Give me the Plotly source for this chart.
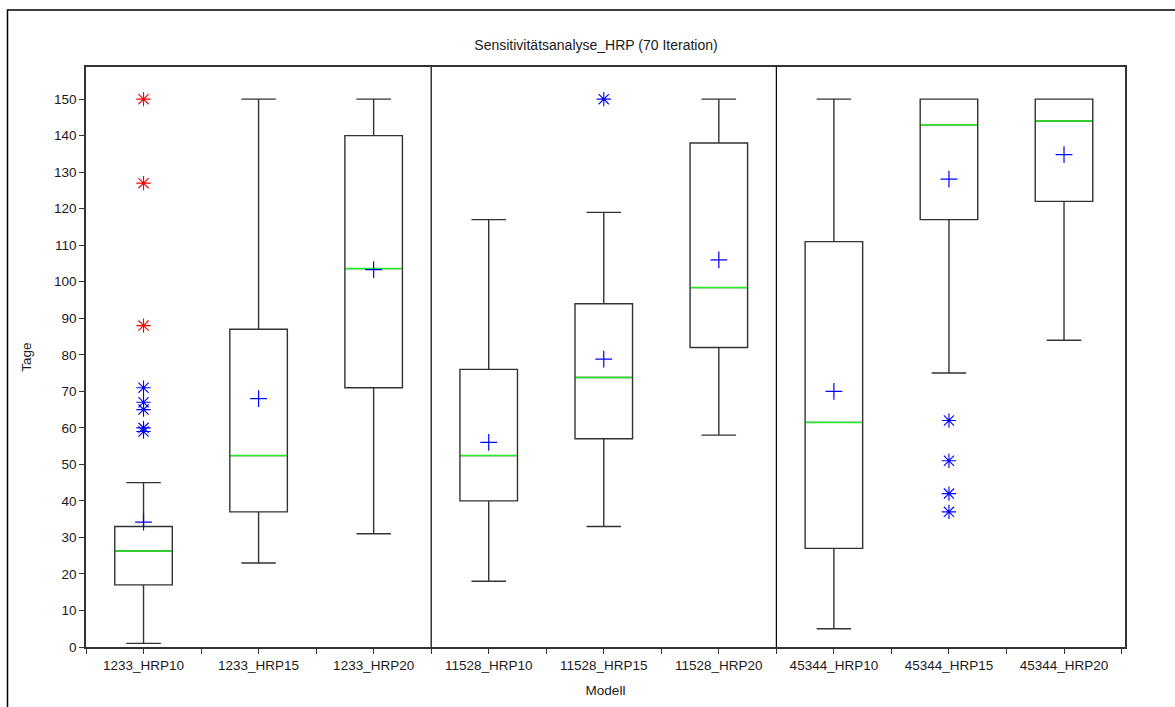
import plotly.graph_objects as go

# ---- data ----
CATEGORIES = ["1233_HRP10", "1233_HRP15", "1233_HRP20",
              "11528_HRP10", "11528_HRP15", "11528_HRP20",
              "45344_HRP10", "45344_HRP15", "45344_HRP20"]
LOWER_WHISKER = [1, 23, 31, 18, 33, 58, 5, 75, 84]
Q1 = [17, 37, 71, 40, 57, 82, 27, 117, 122]
MEDIAN = [26.3, 52.4, 103.6, 52.4, 73.8, 98.4, 61.5, 143, 144]
Q3 = [33, 87, 140, 76, 94, 138, 111, 150, 150]
UPPER_WHISKER = [45, 150, 150, 117, 119, 150, 150, 150, 150]
MEAN = [34.2, 68, 103.3, 56, 78.8, 106, 70, 128.1, 134.8]

# outliers (category index, value)
OUTLIER_CAT = [0, 0, 0, 0, 0, 4, 7, 7, 7, 7]
OUTLIER_VAL = [71, 67, 65, 60, 59, 150, 62, 51, 42, 37]
EXTREME_CAT = [0, 0, 0]
EXTREME_VAL = [150, 127, 88]

TITLE = "Sensitivitätsanalyse_HRP (70 Iteration)"
Y_TITLE = "Tage"
X_TITLE = "Modell"
Y_TICKS = list(range(0, 151, 10))

FONT = "Liberation Sans, Arial, sans-serif"
LINE = "#333333"
BLUE = "#0000ff"
RED = "#ff0000"

n = len(CATEGORIES)
pos = list(range(n))

fig = go.Figure()

fig.add_trace(go.Box(
    x=pos, q1=Q1, median=MEDIAN, q3=Q3,
    lowerfence=LOWER_WHISKER, upperfence=UPPER_WHISKER,
    width=0.5, whiskerwidth=0.6,
    line=dict(color=LINE, width=1.4), fillcolor="white",
    boxpoints=False, showlegend=False, hoverinfo="skip",
))

# green median lines
mx, my = [], []
for i, m in zip(pos, MEDIAN):
    mx += [i - 0.245, i + 0.245, None]
    my += [m, m, None]
fig.add_trace(go.Scatter(x=mx, y=my, mode="lines",
                         line=dict(color="#22ee22", width=1.5),
                         showlegend=False, hoverinfo="skip"))

# means
fig.add_trace(go.Scatter(x=pos, y=MEAN, mode="markers",
                         marker=dict(symbol="cross-thin-open", size=12, color=BLUE,
                                     line=dict(color=BLUE, width=1.2)),
                         showlegend=False))

# outliers
fig.add_trace(go.Scatter(x=OUTLIER_CAT, y=OUTLIER_VAL, mode="markers",
                         marker=dict(symbol="asterisk-open", size=12, color=BLUE,
                                     line=dict(color=BLUE, width=1.1)),
                         showlegend=False))
fig.add_trace(go.Scatter(x=EXTREME_CAT, y=EXTREME_VAL, mode="markers",
                         marker=dict(symbol="asterisk-open", size=12, color=RED,
                                     line=dict(color=RED, width=1.1)),
                         showlegend=False))

# group separators
for xs in [2.5, 5.5]:
    fig.add_shape(type="line", xref="x", yref="paper", x0=xs, x1=xs, y0=0, y1=1,
                  line=dict(color="#000000", width=1.2))

# outer frame
L, R, T, B = 86, 1125, 67, 647
W, H = R - L, B - T
fig.add_shape(type="rect", xref="paper", yref="paper",
              x0=(7.5 - L) / W, x1=(1200 - L) / W,
              y0=(B - 730) / H, y1=(B - 10) / H,
              line=dict(color="#000000", width=1.5), fillcolor="rgba(0,0,0,0)")

tickvals, ticktext = [], []
for i, c in enumerate(CATEGORIES):
    tickvals += [i - 0.5, i]
    ticktext += ["", c]
tickvals.append(n - 0.5)
ticktext.append("")

fig.update_layout(
    width=1175, height=707,
    margin=dict(l=L, r=1175 - R, t=T, b=707 - B),
    paper_bgcolor="white", plot_bgcolor="white",
    font=dict(family=FONT, size=13.5, color="#1a1a1a"),
    title=dict(text=TITLE, x=596 / 1175, xref="container", xanchor="center",
               y=1 - 45 / 707, yref="container", yanchor="middle",
               font=dict(size=14, color="#1a1a1a")),
    showlegend=False,
)
fig.update_xaxes(range=[-0.5, n - 0.47], tickmode="array", tickvals=tickvals,
                 ticktext=ticktext, ticks="outside", ticklen=5, tickcolor=LINE,
                 showline=True, mirror=True, linecolor=LINE, linewidth=1.5,
                 showgrid=False, zeroline=False,
                 title=dict(text=X_TITLE, standoff=14, font=dict(size=13.5)))
fig.update_yaxes(range=[0, 158.8], tickmode="array", tickvals=Y_TICKS,
                 ticks="outside", ticklen=5, tickcolor=LINE,
                 showline=True, mirror=True, linecolor=LINE, linewidth=1.5,
                 showgrid=False, zeroline=False,
                 title=dict(text=Y_TITLE, standoff=19, font=dict(size=13.5)))

fig.write_html("out.html")
